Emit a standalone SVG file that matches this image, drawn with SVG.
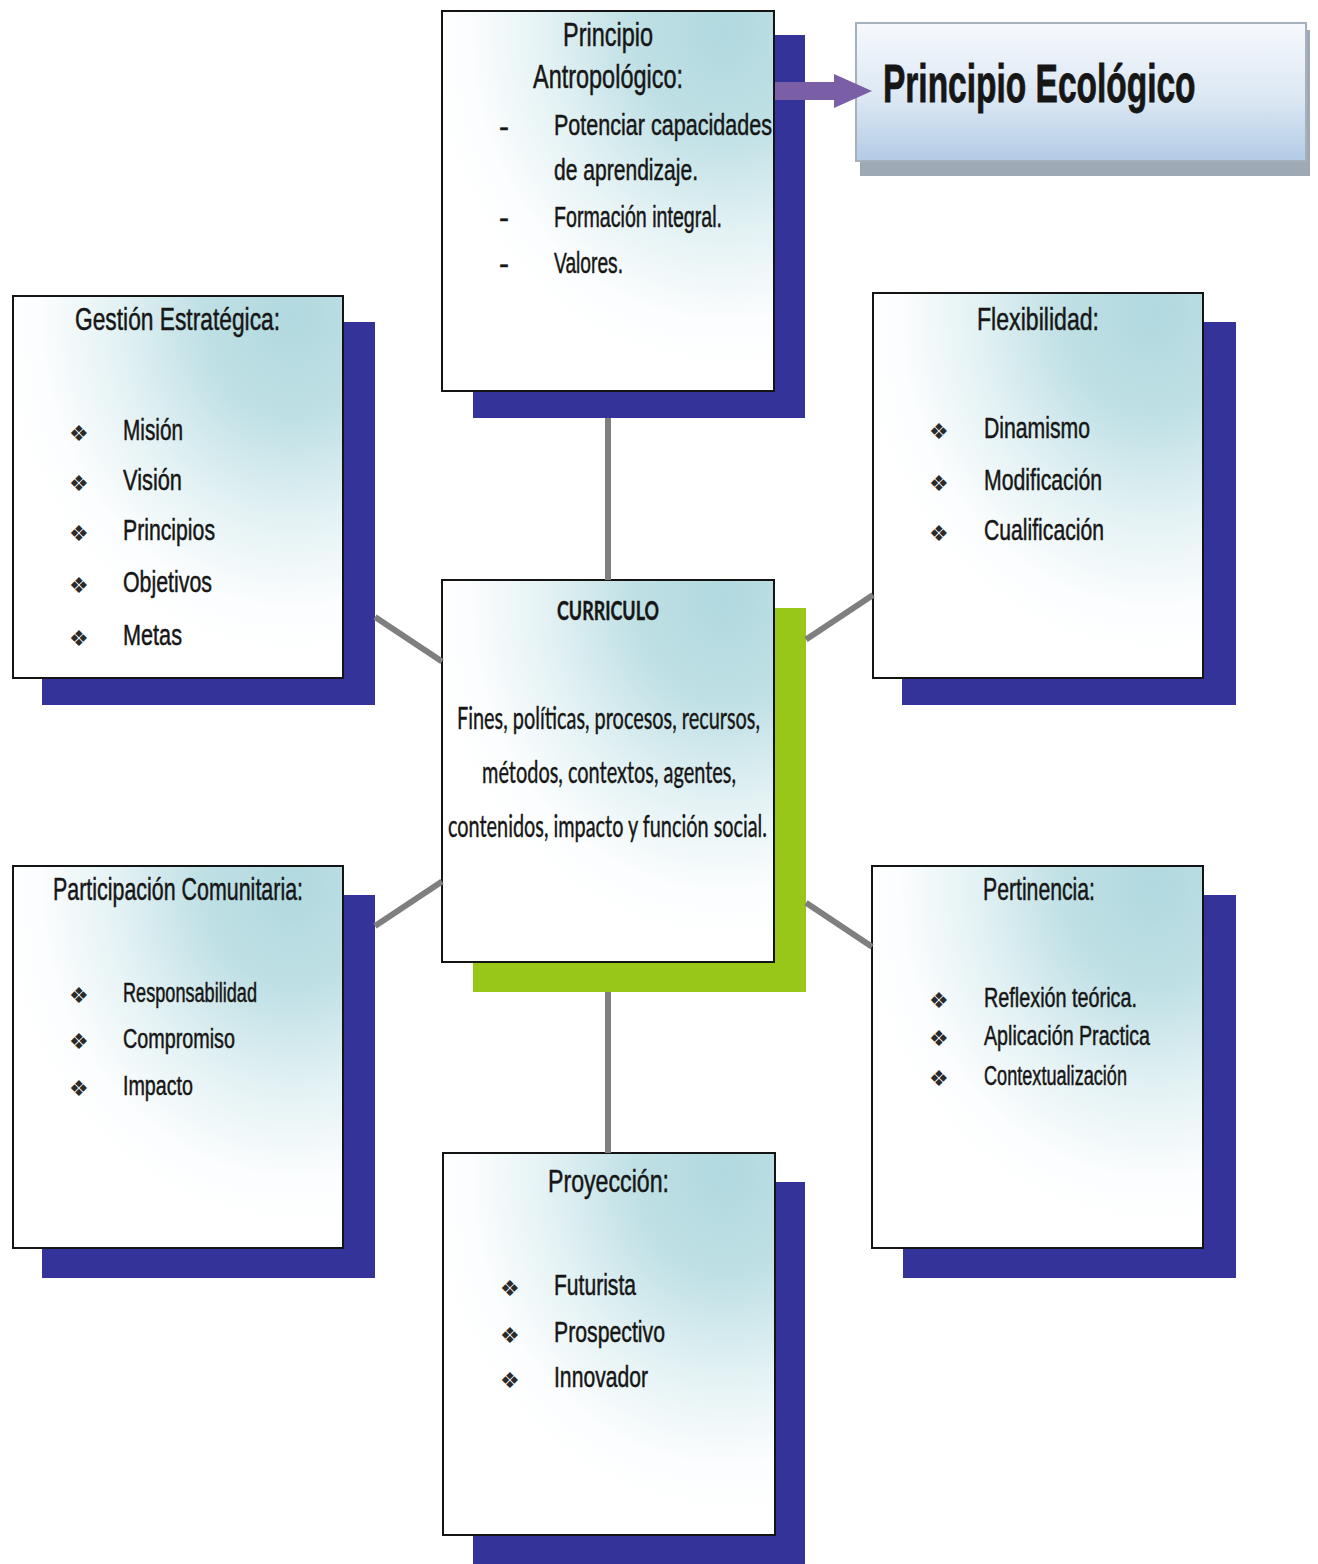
<svg xmlns="http://www.w3.org/2000/svg" width="1318" height="1564" viewBox="0 0 1318 1564">
<defs>
<radialGradient id="boxg" cx="0.85" cy="0.05" r="0.9">
<stop offset="0" stop-color="#b1d9df"/>
<stop offset="0.3" stop-color="#bfe0e5"/>
<stop offset="0.6" stop-color="#e4f2f4"/>
<stop offset="0.85" stop-color="#fbfdfe"/>
<stop offset="1" stop-color="#ffffff"/>
</radialGradient>
<linearGradient id="ecog" x1="0" y1="0" x2="0" y2="1">
<stop offset="0" stop-color="#f6f9fd"/>
<stop offset="0.55" stop-color="#dbe7f3"/>
<stop offset="1" stop-color="#b3cbe5"/>
</linearGradient>
<style>
.box{fill:url(#boxg);stroke:#141414;stroke-width:2}
.sh{fill:#333399}
.t{font-family:"Liberation Sans",Arial,sans-serif;fill:#161616;stroke:#161616;stroke-width:0.5}
.ti{font-size:32px}
.it{font-size:30px}
.sm{font-size:27px}
.bu{font-family:"DejaVu Sans",sans-serif;font-size:22px;fill:#2a2a2a}
.c{font-family:Lato,"Open Sans",sans-serif;fill:#161616;stroke:#161616;stroke-width:0.4}
.ln{stroke:#7f7f7f;stroke-width:6;fill:none}
</style>
</defs>
<rect width="1318" height="1564" fill="#ffffff"/>

<g id="node-ecologico">
<rect x="860" y="30" width="450" height="146" fill="#9ea9b6"/>
<rect x="856" y="23" width="450" height="138" fill="url(#ecog)" stroke="#a7b1bd" stroke-width="2"/>
<text class="t" transform="translate(883,102) scale(1,1.62)" x="0" y="0" font-size="33.5" font-weight="bold">Principio Ecológico</text>
</g>

<g id="node-antropologico">
<rect class="sh" x="473" y="35" width="332" height="383"/>
<rect class="box" x="442" y="11" width="332" height="380"/>
<text class="t" x="563" y="46" font-size="33" textLength="90" lengthAdjust="spacingAndGlyphs">Principio</text>
<text class="t" x="533" y="88" font-size="33" textLength="150" lengthAdjust="spacingAndGlyphs">Antropológico:</text>
<text class="t" x="499" y="137" font-size="30">-</text>
<text class="t it" x="554" y="135" textLength="218" lengthAdjust="spacingAndGlyphs">Potenciar  capacidades</text>
<text class="t it" x="554" y="180" textLength="144" lengthAdjust="spacingAndGlyphs">de aprendizaje.</text>
<text class="t" x="499" y="228" font-size="30">-</text>
<text class="t it" x="554" y="227" textLength="168" lengthAdjust="spacingAndGlyphs">Formación integral.</text>
<text class="t" x="499" y="274" font-size="30">-</text>
<text class="t it" x="554" y="273" textLength="69" lengthAdjust="spacingAndGlyphs">Valores.</text>
</g>

<g id="node-gestion">
<rect class="sh" x="42" y="322" width="333" height="383"/>
<rect class="box" x="13" y="296" width="330" height="382"/>
<text class="t ti" x="75" y="330" textLength="205" lengthAdjust="spacingAndGlyphs">Gestión Estratégica:</text>
<text class="bu" x="69" y="441">❖</text>
<text class="t it" x="123" y="440" textLength="60" lengthAdjust="spacingAndGlyphs">Misión</text>
<text class="bu" x="69" y="491">❖</text>
<text class="t it" x="123" y="490" textLength="59" lengthAdjust="spacingAndGlyphs">Visión</text>
<text class="bu" x="69" y="541">❖</text>
<text class="t it" x="123" y="540" textLength="92" lengthAdjust="spacingAndGlyphs">Principios</text>
<text class="bu" x="69" y="593">❖</text>
<text class="t it" x="123" y="592" textLength="89" lengthAdjust="spacingAndGlyphs">Objetivos</text>
<text class="bu" x="69" y="646">❖</text>
<text class="t it" x="123" y="645" textLength="59" lengthAdjust="spacingAndGlyphs">Metas</text>
</g>

<g id="node-flexibilidad">
<rect class="sh" x="902" y="322" width="334" height="383"/>
<rect class="box" x="873" y="293" width="330" height="385"/>
<text class="t ti" x="977" y="330" textLength="122" lengthAdjust="spacingAndGlyphs">Flexibilidad:</text>
<text class="bu" x="929" y="439">❖</text>
<text class="t it" x="984" y="438" textLength="106" lengthAdjust="spacingAndGlyphs">Dinamismo</text>
<text class="bu" x="929" y="491">❖</text>
<text class="t it" x="984" y="490" textLength="118" lengthAdjust="spacingAndGlyphs">Modificación</text>
<text class="bu" x="929" y="541">❖</text>
<text class="t it" x="984" y="540" textLength="120" lengthAdjust="spacingAndGlyphs">Cualificación</text>
</g>

<g id="node-curriculo">
<rect x="473" y="608" width="333" height="384" fill="#99c719"/>
<rect class="box" x="442" y="580" width="332" height="382"/>
<text class="c" x="557" y="620" font-size="26" font-weight="bold" textLength="102" lengthAdjust="spacingAndGlyphs">CURRICULO</text>
<text class="c" x="457" y="729" font-size="30" textLength="303" lengthAdjust="spacingAndGlyphs">Fines, políticas, procesos, recursos,</text>
<text class="c" x="482" y="783" font-size="30" textLength="254" lengthAdjust="spacingAndGlyphs">métodos, contextos, agentes,</text>
<text class="c" x="448" y="837" font-size="30" textLength="319" lengthAdjust="spacingAndGlyphs">contenidos, impacto y función social.</text>
</g>

<g id="node-participacion">
<rect class="sh" x="42" y="895" width="333" height="383"/>
<rect class="box" x="13" y="866" width="330" height="382"/>
<text class="t ti" x="53" y="900" textLength="250" lengthAdjust="spacingAndGlyphs">Participación Comunitaria:</text>
<text class="bu" x="69" y="1003">❖</text>
<text class="t sm" x="123" y="1002" textLength="134" lengthAdjust="spacingAndGlyphs">Responsabilidad</text>
<text class="bu" x="69" y="1049">❖</text>
<text class="t sm" x="123" y="1048" textLength="112" lengthAdjust="spacingAndGlyphs">Compromiso</text>
<text class="bu" x="69" y="1096">❖</text>
<text class="t sm" x="123" y="1095" textLength="70" lengthAdjust="spacingAndGlyphs">Impacto</text>
</g>

<g id="node-pertinencia">
<rect class="sh" x="903" y="895" width="333" height="383"/>
<rect class="box" x="872" y="866" width="331" height="382"/>
<text class="t ti" x="983" y="900" textLength="112" lengthAdjust="spacingAndGlyphs">Pertinencia:</text>
<text class="bu" x="929" y="1008">❖</text>
<text class="t sm" x="984" y="1007" textLength="153" lengthAdjust="spacingAndGlyphs">Reflexión teórica.</text>
<text class="bu" x="929" y="1046">❖</text>
<text class="t sm" x="984" y="1045" textLength="166" lengthAdjust="spacingAndGlyphs">Aplicación Practica</text>
<text class="bu" x="929" y="1086">❖</text>
<text class="t sm" x="984" y="1085" textLength="143" lengthAdjust="spacingAndGlyphs">Contextualización</text>
</g>

<g id="node-proyeccion">
<rect class="sh" x="473" y="1182" width="332" height="382"/>
<rect class="box" x="443" y="1153" width="332" height="382"/>
<text class="t ti" x="548" y="1192" textLength="121" lengthAdjust="spacingAndGlyphs">Proyección:</text>
<text class="bu" x="500" y="1296">❖</text>
<text class="t it" x="554" y="1295" textLength="82" lengthAdjust="spacingAndGlyphs">Futurista</text>
<text class="bu" x="500" y="1343">❖</text>
<text class="t it" x="554" y="1342" textLength="111" lengthAdjust="spacingAndGlyphs">Prospectivo</text>
<text class="bu" x="500" y="1388">❖</text>
<text class="t it" x="554" y="1387" textLength="94" lengthAdjust="spacingAndGlyphs">Innovador</text>
</g>

<g id="connectors">
<line class="ln" x1="608" y1="418" x2="608" y2="580"/>
<line class="ln" x1="608" y1="992" x2="608" y2="1153"/>
<line class="ln" x1="375" y1="617" x2="442" y2="661.4"/>
<line class="ln" x1="806" y1="639.5" x2="873" y2="595.1"/>
<line class="ln" x1="375" y1="926" x2="442" y2="881.4"/>
<line class="ln" x1="806" y1="902.8" x2="872" y2="946.8"/>
<path d="M775,82 H834 V74 L872,91 L834,108 V100 H775 Z" fill="#7b5fa6"/>
</g>
</svg>
